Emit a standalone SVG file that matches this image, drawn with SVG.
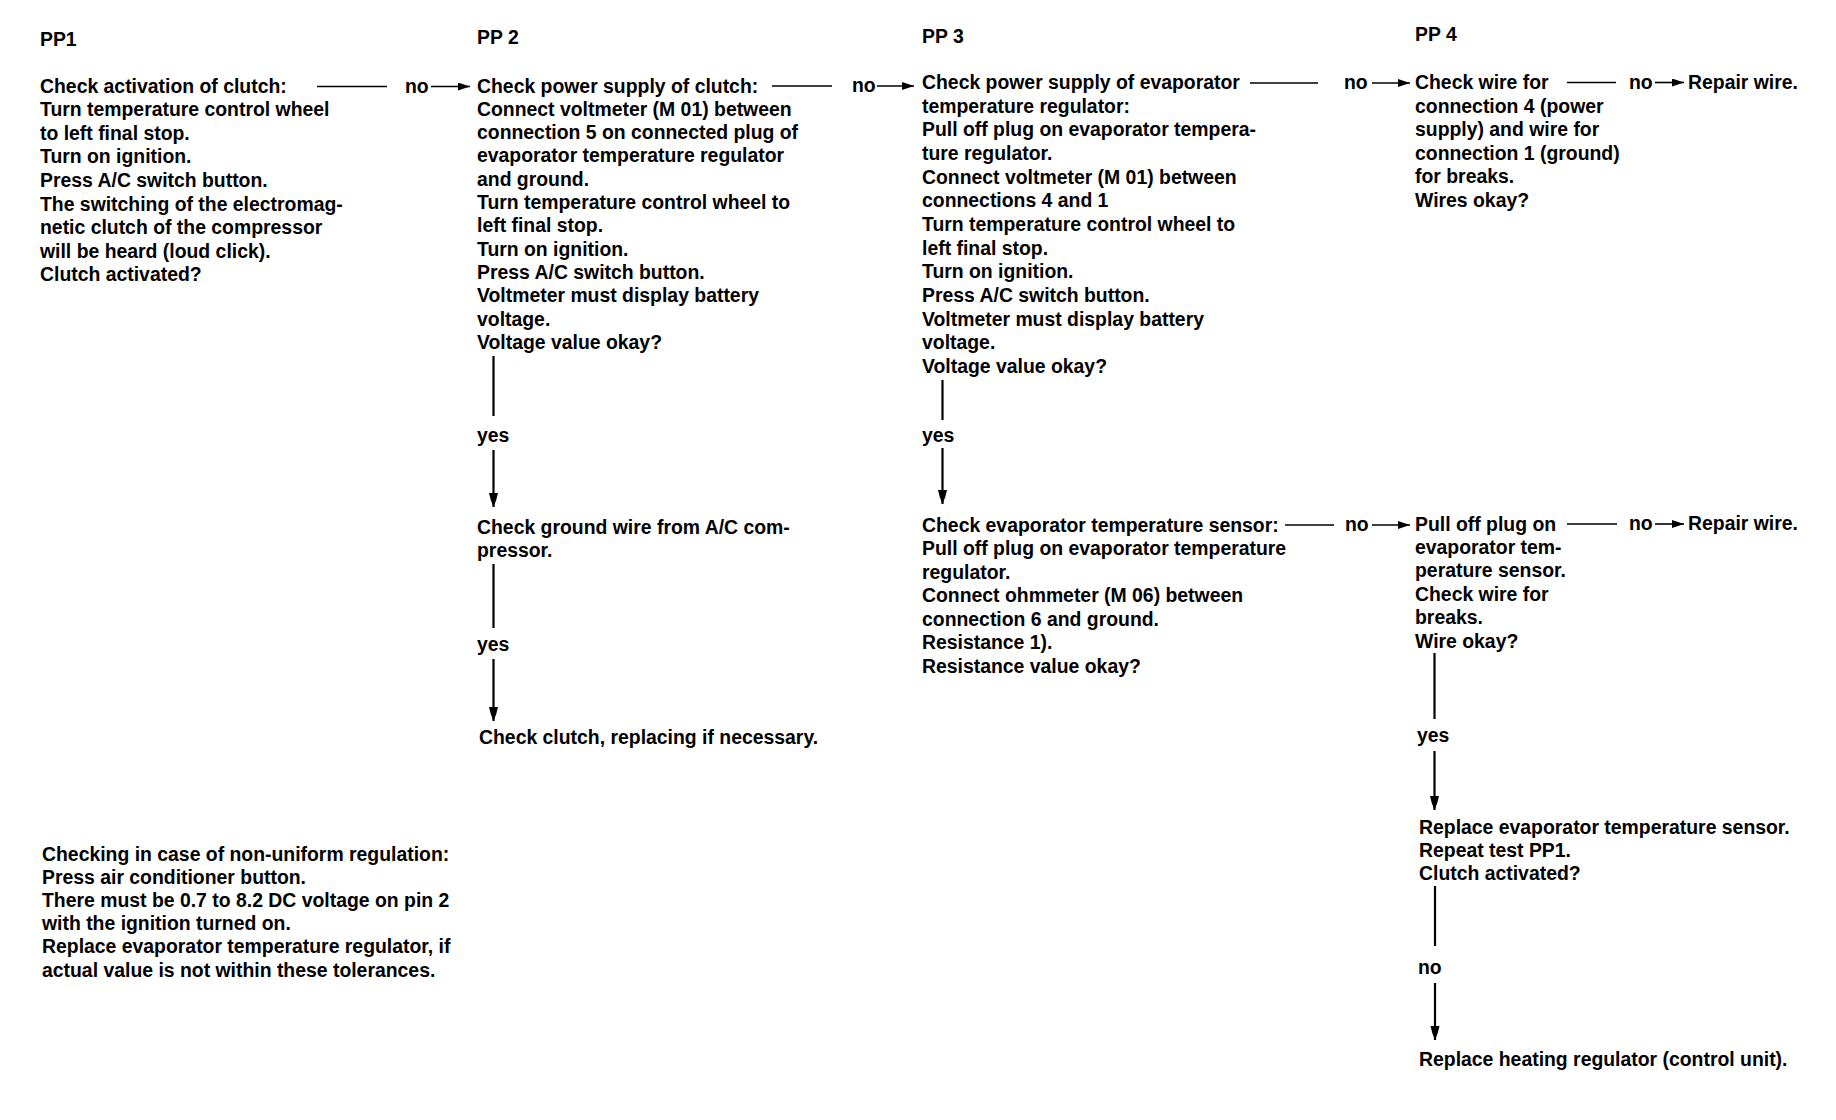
<svg xmlns="http://www.w3.org/2000/svg" width="1836" height="1120" viewBox="0 0 1836 1120">
<defs>
<style>
text{font-family:"Liberation Sans",Arial,sans-serif;font-weight:bold;font-size:19.4px;fill:#000}
.ln{stroke:#000;stroke-width:1.6;fill:none}
.vl{stroke:#000;stroke-width:2.2;fill:none}
</style>
<marker id="ah" markerUnits="userSpaceOnUse" markerWidth="12" markerHeight="8" refX="12" refY="4" orient="auto">
<path d="M0,0 L12,4 L0,8 Z" fill="#000"/>
</marker>
<marker id="av" markerUnits="userSpaceOnUse" markerWidth="14" markerHeight="10" refX="14" refY="5" orient="auto">
<path d="M0,0.5 Q6,1.5 14,5 Q6,8.5 0,9.5 Z" fill="#000"/>
</marker>
</defs>
<rect width="1836" height="1120" fill="#fff"/>

<g id="headers">
<text x="40" y="46">PP1</text>
<text x="477" y="44">PP 2</text>
<text x="922" y="43">PP 3</text>
<text x="1415" y="41">PP 4</text>
</g>

<g id="pp1">
<text x="40" y="92.5">Check activation of clutch:</text>
<text x="40" y="116.1">Turn temperature control wheel</text>
<text x="40" y="139.7">to left final stop.</text>
<text x="40" y="163.3">Turn on ignition.</text>
<text x="40" y="186.9">Press A/C switch button.</text>
<text x="40" y="210.5">The switching of the electromag-</text>
<text x="40" y="234.1">netic clutch of the compressor</text>
<text x="40" y="257.7">will be heard (loud click).</text>
<text x="40" y="281.3">Clutch activated?</text>
</g>

<g id="pp2">
<text x="477" y="92.5">Check power supply of clutch:</text>
<text x="477" y="115.8">Connect voltmeter (M 01) between</text>
<text x="477" y="139.1">connection 5 on connected plug of</text>
<text x="477" y="162.4">evaporator temperature regulator</text>
<text x="477" y="185.7">and ground.</text>
<text x="477" y="209">Turn temperature control wheel to</text>
<text x="477" y="232.3">left final stop.</text>
<text x="477" y="255.6">Turn on ignition.</text>
<text x="477" y="278.9">Press A/C switch button.</text>
<text x="477" y="302.2">Voltmeter must display battery</text>
<text x="477" y="325.5">voltage.</text>
<text x="477" y="348.8">Voltage value okay?</text>
</g>

<g id="pp2-ground">
<text x="477" y="533.5">Check ground wire from A/C com-</text>
<text x="477" y="557">pressor.</text>
</g>

<g id="pp2-clutch">
<text x="479" y="743.5">Check clutch, replacing if necessary.</text>
</g>

<g id="pp3">
<text x="922" y="89">Check power supply of evaporator</text>
<text x="922" y="112.65">temperature regulator:</text>
<text x="922" y="136.3">Pull off plug on evaporator tempera-</text>
<text x="922" y="159.95">ture regulator.</text>
<text x="922" y="183.6">Connect voltmeter (M 01) between</text>
<text x="922" y="207.25">connections 4 and 1</text>
<text x="922" y="230.9">Turn temperature control wheel to</text>
<text x="922" y="254.55">left final stop.</text>
<text x="922" y="278.2">Turn on ignition.</text>
<text x="922" y="301.85">Press A/C switch button.</text>
<text x="922" y="325.5">Voltmeter must display battery</text>
<text x="922" y="349.15">voltage.</text>
<text x="922" y="372.8">Voltage value okay?</text>
</g>

<g id="pp3-sensor">
<text x="922" y="531.8">Check evaporator temperature sensor:</text>
<text x="922" y="555.3">Pull off plug on evaporator temperature</text>
<text x="922" y="578.8">regulator.</text>
<text x="922" y="602.3">Connect ohmmeter (M 06) between</text>
<text x="922" y="625.8">connection 6 and ground.</text>
<text x="922" y="649.3">Resistance 1).</text>
<text x="922" y="672.8">Resistance value okay?</text>
</g>

<g id="pp4-wires">
<text x="1415" y="89">Check wire for</text>
<text x="1415" y="112.6">connection 4 (power</text>
<text x="1415" y="136.2">supply) and wire for</text>
<text x="1415" y="159.8">connection 1 (ground)</text>
<text x="1415" y="183.4">for breaks.</text>
<text x="1415" y="207">Wires okay?</text>
</g>

<g id="repair-wire-1">
<text x="1688" y="88.5">Repair wire.</text>
</g>

<g id="pp4-plug">
<text x="1415" y="530.5">Pull off plug on</text>
<text x="1415" y="553.9">evaporator tem-</text>
<text x="1415" y="577.3">perature sensor.</text>
<text x="1415" y="600.7">Check wire for</text>
<text x="1415" y="624.1">breaks.</text>
<text x="1415" y="647.5">Wire okay?</text>
</g>

<g id="repair-wire-2">
<text x="1688" y="530">Repair wire.</text>
</g>

<g id="replace-sensor">
<text x="1419" y="834">Replace evaporator temperature sensor.</text>
<text x="1419" y="857">Repeat test PP1.</text>
<text x="1419" y="880">Clutch activated?</text>
</g>

<g id="replace-heating">
<text x="1419" y="1065.5">Replace heating regulator (control unit).</text>
</g>

<g id="note">
<text x="42" y="860.5">Checking in case of non-uniform regulation:</text>
<text x="42" y="883.7">Press air conditioner button.</text>
<text x="42" y="906.9">There must be 0.7 to 8.2 DC voltage on pin 2</text>
<text x="42" y="930.1">with the ignition turned on.</text>
<text x="42" y="953.3">Replace evaporator temperature regulator, if</text>
<text x="42" y="976.5">actual value is not within these tolerances.</text>
</g>

<g id="connectors">
<line class="ln" x1="317" y1="86.5" x2="387" y2="86.5"/>
<text x="405" y="92.5">no</text>
<line class="ln" x1="431" y1="86.5" x2="470" y2="86.5" marker-end="url(#ah)"/>

<line class="ln" x1="772" y1="86" x2="832" y2="86"/>
<text x="852" y="92">no</text>
<line class="ln" x1="877" y1="86" x2="914" y2="86" marker-end="url(#ah)"/>

<line class="ln" x1="1250" y1="83" x2="1318" y2="83"/>
<text x="1344" y="89">no</text>
<line class="ln" x1="1372" y1="83" x2="1410" y2="83" marker-end="url(#ah)"/>

<line class="ln" x1="1567" y1="82.5" x2="1616" y2="82.5"/>
<text x="1629" y="88.5">no</text>
<line class="ln" x1="1655" y1="82.5" x2="1684" y2="82.5" marker-end="url(#ah)"/>

<line class="ln" x1="1285" y1="525" x2="1334" y2="525"/>
<text x="1345" y="531">no</text>
<line class="ln" x1="1372" y1="525" x2="1410" y2="525" marker-end="url(#ah)"/>

<line class="ln" x1="1567" y1="524" x2="1617" y2="524"/>
<text x="1629" y="530">no</text>
<line class="ln" x1="1655" y1="524" x2="1684" y2="524" marker-end="url(#ah)"/>

<line class="vl" x1="493.5" y1="356" x2="493.5" y2="416"/>
<text x="477" y="442">yes</text>
<line class="vl" x1="493.5" y1="450" x2="493.5" y2="507" marker-end="url(#av)"/>

<line class="vl" x1="493.5" y1="564" x2="493.5" y2="628"/>
<text x="477" y="651">yes</text>
<line class="vl" x1="493.5" y1="659" x2="493.5" y2="721" marker-end="url(#av)"/>

<line class="vl" x1="942.5" y1="380" x2="942.5" y2="420"/>
<text x="922" y="441.5">yes</text>
<line class="vl" x1="942.5" y1="448" x2="942.5" y2="504" marker-end="url(#av)"/>

<line class="vl" x1="1434.5" y1="653" x2="1434.5" y2="719"/>
<text x="1417" y="742">yes</text>
<line class="vl" x1="1434.5" y1="751" x2="1434.5" y2="810" marker-end="url(#av)"/>

<line class="vl" x1="1435" y1="886" x2="1435" y2="946"/>
<text x="1418" y="974">no</text>
<line class="vl" x1="1435" y1="983" x2="1435" y2="1040" marker-end="url(#av)"/>
</g>
</svg>
